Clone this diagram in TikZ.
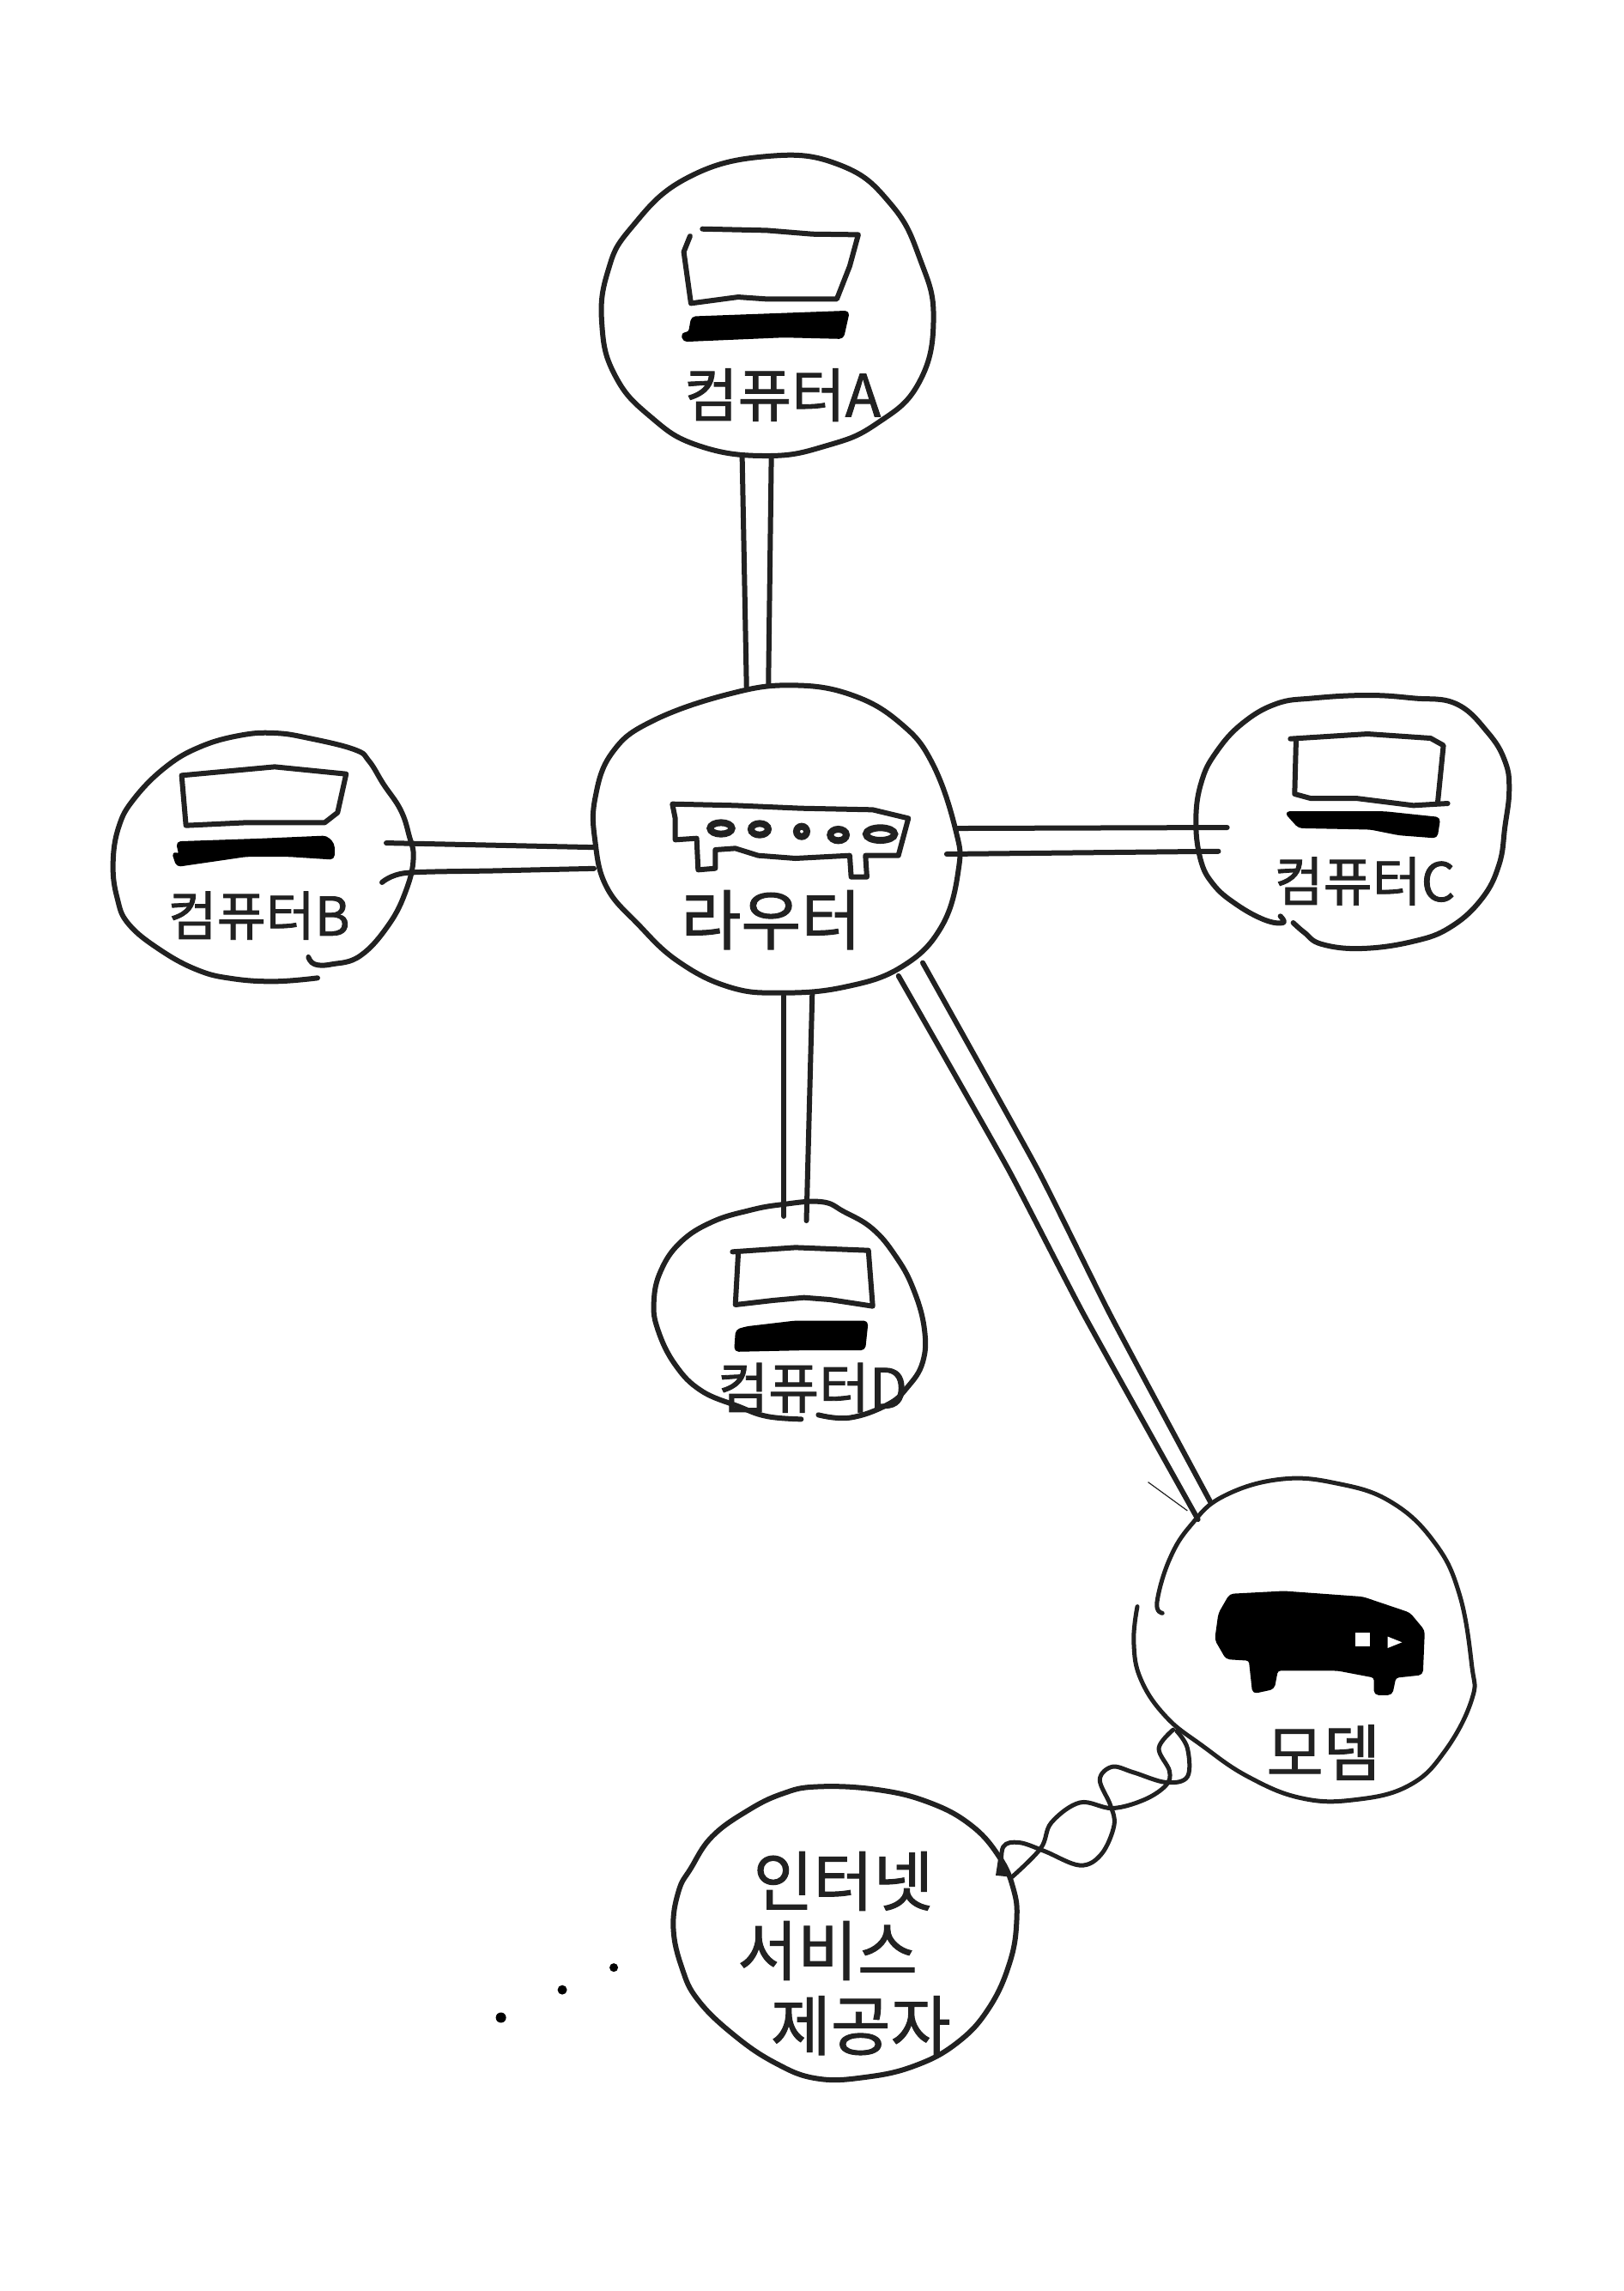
\documentclass[tikz,border=0pt]{standalone}
\usepackage{fontspec}
\newfontfamily\krfont[FakeBold=1.3]{Noto Sans CJK KR}
\usetikzlibrary{shapes.geometric}
\definecolor{ink}{gray}{0.13}
\tikzset{
  pen/.style={draw=ink,line width=6pt,line cap=round,line join=round},
  thinpen/.style={draw=ink,line width=5pt,line cap=round,line join=round},
  portpen/.style={draw=ink,line width=8pt},
  solidink/.style={fill=black,draw=black,line width=3pt,line join=round,rounded corners=4pt},
  anchorblob/.style={ellipse,draw=none,inner sep=0pt},
  hand/.style={font=\krfont\fontsize{#1}{#1}\selectfont,text=ink,inner sep=0pt},
  zoomA/.style={shift={(399.5,129.3)},x=0.3333pt,y=-0.3333pt},
  zoomR/.style={shift={(381.9,458.3)},x=0.3333pt,y=-0.3333pt},
  zoomB/.style={shift={(70.5,505.3)},x=0.3333pt,y=-0.3333pt},
  zoomC/.style={shift={(810.8,481.8)},x=0.3333pt,y=-0.3333pt},
  zoomD/.style={shift={(440.7,816.7)},x=0.3333pt,y=-0.3333pt},
  zoomM/.style={shift={(646.3,998.8)},x=0.4167pt,y=-0.3333pt},
  zoomI/.style={shift={(329,1222)},x=0.4082pt,y=-0.3333pt}
}
\begin{document}
\begin{tikzpicture}[x=1.702pt,y=-1.702pt]
\useasboundingbox[fill=white] (0,0) rectangle (1111.05,1568.16);

% node regions
\node[anchorblob,minimum width=384pt,minimum height=350pt] (cA) at (525,209) {};
\node[anchorblob,minimum width=425pt,minimum height=360pt] (r) at (531,575) {};
\node[anchorblob,minimum width=350pt,minimum height=290pt] (cB) at (180,590) {};
\node[anchorblob,minimum width=364pt,minimum height=290pt] (cC) at (926,564) {};
\node[anchorblob,minimum width=316pt,minimum height=255pt] (cD) at (540,898) {};
\node[anchorblob,minimum width=390pt,minimum height=375pt] (mo) at (892,1122) {};
\node[anchorblob,minimum width=398pt,minimum height=340pt] (isp) at (578,1323) {};

% computer A
\draw[pen] plot[smooth cycle,tension=0.75] coordinates {(525,107)(575,113)(610,140)(630,178)(639,218)(629,262)(600,290)(566,305)(525,312)(478,305)(445,285)(421,257)(412,222)(416,186)(432,156)(470,122)};
\begin{scope}[zoomA]
\draw[pen] (415,140) -- (640,145) -- (800,158) -- (960,160) -- (930,270) -- (885,385) -- (640,385) -- (540,378) -- (375,400) -- (350,220) -- (372,165);
\fill[solidink] (380,450) -- (925,430) -- (905,520) -- (700,515) -- (350,530) -- (345,505) -- (370,505) -- cycle;
\node[hand=68] (labelA) at (695,720) {컴퓨터A};
\end{scope}

% router
\begin{scope}[zoomR]
\draw[pen] plot[smooth cycle,tension=0.7] coordinates {(820,55)(1030,90)(1200,190)(1310,330)(1390,560)(1400,700)(1340,900)(1200,1040)(1000,1110)(780,1130)(600,1110)(420,1020)(280,890)(170,760)(130,600)(130,450)(190,290)(330,180)(600,85)};
\draw[pen] (400,470) -- (620,475) -- (850,485) -- (1100,490) -- (1225,520) -- (1190,650) -- (1075,650) -- (1080,725) -- (1025,725) -- (1020,650) -- (830,660) -- (700,650) -- (620,625) -- (550,630) -- (550,695) -- (490,700) -- (485,590) -- (410,595) -- (410,520) -- cycle;
\draw[portpen] (570,555) ellipse [x radius=38,y radius=20];
\draw[portpen] (705,558) ellipse [x radius=30,y radius=20];
\draw[portpen] (852,566) ellipse [x radius=18,y radius=18];
\draw[portpen] (980,578) ellipse [x radius=28,y radius=20];
\draw[portpen] (1127,575) ellipse [x radius=50,y radius=22];
\node[hand=76] (labelR) at (745,875) {라우터};
\end{scope}

% computer B
\begin{scope}[zoomB]
\draw[pen] plot[smooth,tension=0.7] coordinates {(750,838)(600,850)(450,840)(330,810)(200,740)(90,650)(50,560)(35,440)(55,310)(110,210)(220,100)(340,30)(480,-10)(600,-18)(720,0)(880,40)(930,80)(980,160)(1040,250)(1070,340)(1085,420)(1060,530)(1000,650)(900,760)(800,790)(740,790)(718,765)};
\draw[pen] (275,130) -- (600,100) -- (850,125) -- (820,260) -- (775,295) -- (500,295) -- (290,305) -- cycle;
\fill[solidink] (260,365) -- (550,355) -- (780,345) -- (805,370) -- (805,420) -- (650,410) -- (500,410) -- (260,445) -- (245,400) -- (270,410) -- cycle;
\node[hand=62] (labelB) at (545,620) {컴퓨터B};
\end{scope}

% computer C
\begin{scope}[zoomC]
\draw[pen] plot[smooth,tension=0.7] coordinates {(335,742)(345,765)(280,755)(180,700)(100,630)(55,540)(40,400)(60,270)(110,170)(200,70)(320,0)(450,-20)(640,-30)(800,-20)(950,0)(1060,100)(1120,200)(1135,300)(1120,430)(1100,560)(1040,680)(930,780)(800,830)(620,855)(480,840)(420,800)(380,765)};
\draw[pen] (370,122) -- (640,105) -- (860,120) -- (905,145) -- (885,345);
\draw[pen] (920,348) -- (800,355) -- (600,330) -- (440,330) -- (385,315) -- (390,125);
\fill[solidink] (355,380) -- (700,380) -- (890,400) -- (880,465) -- (750,455) -- (650,435) -- (400,430) -- cycle;
\node[hand=62] (labelC) at (630,620) {컴퓨터C};
\end{scope}

% computer D
\begin{scope}[zoomD]
\draw[pen] plot[smooth,tension=0.7] coordinates {(610,775)(720,785)(850,740)(920,680)(975,590)(980,470)(940,330)(880,220)(800,125)(700,65)(620,30)(480,40)(370,60)(240,100)(130,170)(60,270)(35,380)(50,480)(110,600)(200,690)(330,745)(430,780)(550,790)};
\draw[pen] (310,205) -- (530,190) -- (785,200) -- (800,395) -- (650,372) -- (560,365) -- (450,375) -- (320,390) -- (330,210);
\fill[solidink] (360,470) -- (530,450) -- (780,450) -- (770,545) -- (550,545) -- (320,550) -- (325,480) -- cycle;
\node[hand=64] (labelD) at (590,680) {컴퓨터D};
\end{scope}

% modem
\begin{scope}[zoomM]
\draw[thinpen] plot[smooth,tension=0.7] coordinates {(610,538)(595,500)(630,350)(690,230)(780,130)(940,70)(1100,85)(1250,150)(1370,290)(1440,470)(1475,720)(1475,840)(1400,1020)(1300,1140)(1150,1190)(1000,1185)(850,1110)(720,1000)(620,900)(550,770)(530,640)(540,515)};
\fill[solidink] (800,475) -- (950,465) -- (1170,485) -- (1300,540) -- (1340,600) -- (1335,750) -- (1260,760) -- (1250,820) -- (1205,820) -- (1205,760) -- (1100,735) -- (930,735) -- (920,800) -- (865,815) -- (855,700) -- (790,695) -- (760,630) -- (770,540) -- cycle;
\fill[white] (1150,605) rectangle (1190,655);
\fill[white] (1240,620) -- (1280,640) -- (1240,660) -- cycle;
\node[hand=72] (labelM) at (1060,1025) {모뎀};
\draw[ink,line width=1.2pt] (570,80) -- (680,180);
\end{scope}

% internet service provider
\begin{scope}[zoomI]
\draw[pen] plot[smooth cycle,tension=0.7] coordinates {(960,5)(1130,15)(1280,60)(1400,140)(1480,250)(1520,360)(1530,470)(1510,620)(1450,780)(1360,900)(1240,980)(1100,1020)(960,1025)(840,970)(720,870)(620,750)(575,640)(550,500)(565,370)(600,290)(660,180)(760,90)(860,30)};
\node[hand=76] (labelI1) at (1035,335) {인터넷};
\node[hand=76] (labelI2) at (990,578) {서비스};
\node[hand=76] (labelI3) at (1085,840) {제공자};
\fill[black] (58,812) circle [radius=6pt];
\fill[black] (233,715) circle [radius=5.5pt];
\fill[black] (380,637) circle [radius=5pt];
\fill[ink] (1480,235) -- (1510,320) -- (1470,315) -- cycle;
\end{scope}

% connectors: computer A to router
\draw[pen] ([shift={(-17,103)}]cA.center) -- ([shift={(-20,-105)}]r.center);
\draw[pen] ([shift={(3,103)}]cA.center) -- ([shift={(-5,-107)}]r.center);
% computer B to router
\draw[pen] ([shift={(84.4,-13)}]cB.center) -- ([shift={(-124,5)}]r.center);
\draw[pen] plot[smooth,tension=0.5] coordinates {([shift={(81.5,14)}]cB.center) (278,597.5) (340,596) ([shift={(-124.4,19.5)}]r.center)};
% computer C to router
\draw[pen] ([shift={(-86,2.4)}]cC.center) -- ([shift={(124,-8)}]r.center);
\draw[pen] ([shift={(-92,18.7)}]cC.center) -- ([shift={(117,9.6)}]r.center);
% computer D to router
\draw[pen] ([shift={(-3.4,-65.5)}]cD.center) -- ([shift={(5.6,106.6)}]r.center);
\draw[pen] ([shift={(12,-62.5)}]cD.center) -- ([shift={(25,105)}]r.center);
% modem to router
\draw[pen] plot[smooth,tension=0.3] coordinates {([shift={(84,93)}]r.center) (690,800) (742,900) ([shift={(-72,-82)}]mo.center)};
\draw[pen] plot[smooth,tension=0.3] coordinates {([shift={(100.6,84)}]r.center) (710,800) (760,900) ([shift={(-63.5,-94)}]mo.center)};
% twisted line from modem to provider
\draw[thinpen] plot[smooth,tension=0.6] coordinates {([shift={(-89,62)}]mo.center) (793.2,1196.6)(800.5,1212.2)(798.1,1222)(783.4,1231.8)(761.4,1237.7)(739.3,1233.8)(719.7,1247.5)(712.4,1265.1) ([shift={(114.8,-38.3)}]isp.center)};
\draw[thinpen] plot[smooth,tension=0.6] coordinates {([shift={(-86.6,62.8)}]mo.center) (812.8,1196.6)(812.8,1216.1)(798.1,1220)(776,1213.2)(761.4,1209.3)(752.8,1218.1)(760.1,1235.7)(762.6,1249.4)(754,1269)(739.3,1276.8)(714.8,1267)(697.7,1261.2)(686.7,1264.1) ([shift={(107.5,-42.2)}]isp.center)};
\end{tikzpicture}
\end{document}
